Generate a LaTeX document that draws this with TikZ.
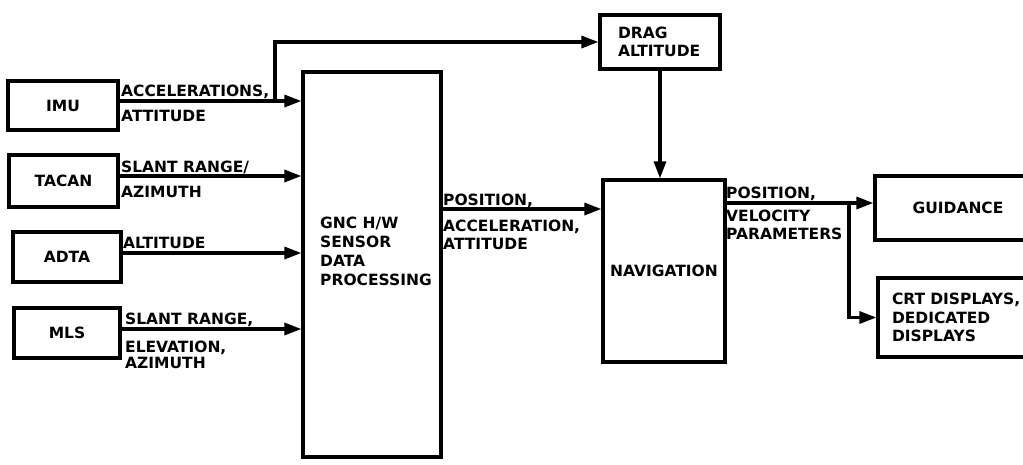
\documentclass[tikz,border=0pt]{standalone}
\usepackage{fontspec}
\setmainfont{DejaVu Sans}
\usetikzlibrary{arrows.meta}
\newcommand\lblfont{\fontsize{15.5}{18.5}\selectfont\bfseries}
\tikzset{
  box/.style={draw, rectangle, line width=3.2pt, inner sep=0pt, font=\lblfont},
  lbl/.style={inner sep=0pt, anchor=base west, font=\lblfont},
  conn/.style={line width=3.2pt},
  arr/.style={conn, -{Triangle[length=17pt,width=12pt]}}
}
\begin{document}
\begin{tikzpicture}[x=1pt,y=-1pt]
\useasboundingbox (0,0) rectangle (1023,464);
\clip (0,0) rectangle (1023,464);
% boxes
\node[box, minimum width=110pt, minimum height=49pt] (imu) at (63,105.5) {IMU};
\node[box, minimum width=109pt, minimum height=52pt] (tacan) at (63.5,181) {TACAN};
\node[box, minimum width=108pt, minimum height=50pt] (adta) at (67,257) {ADTA};
\node[box, minimum width=106pt, minimum height=50pt] (mls) at (67,333) {MLS};
\node[box, minimum width=138pt, minimum height=385pt] (gnc) at (372,264.5) {};
\node[box, minimum width=120pt, minimum height=54pt, text width=84pt, align=left] (drag) at (660,42) {DRAG\\ALTITUDE};
\node[box, minimum width=122pt, minimum height=182pt] (nav) at (664,271) {NAVIGATION};
\node[box, minimum width=166pt, minimum height=64pt] (guid) at (958,208) {GUIDANCE};
\node[box, minimum width=164pt, minimum height=79pt, text width=136pt, align=left] (crt) at (960,317.5) {CRT DISPLAYS,\\DEDICATED\\DISPLAYS};
% GNC text
\node[lbl] (g1) at (320,228.5) {GNC H/W};
\node[lbl] (g2) at (320,247) {SENSOR};
\node[lbl] (g3) at (320,266) {DATA};
\node[lbl] (g4) at (320,285) {PROCESSING};
% connectors
\draw[arr] ([yshift=4.5pt]imu.east) coordinate (a1) -- (a1 -| gnc.west);
\coordinate (br) at (275,101);
\draw[arr] (br) |- (drag.west);
\draw[arr] ([yshift=5pt]tacan.east) coordinate (a2) -- (a2 -| gnc.west);
\draw[arr] ([yshift=4pt]adta.east) coordinate (a3) -- (a3 -| gnc.west);
\draw[arr] ([yshift=4pt]mls.east) coordinate (a4) -- (a4 -| gnc.west);
\draw[arr] (drag.south) -- (drag.south |- nav.north);
\draw[arr] (gnc.east |- 0,209) -- (nav.west |- 0,209);
\draw[arr] (nav.east |- 0,203) -- (guid.west |- 0,203);
\coordinate (br2) at (849,203);
\draw[arr] (br2) |- (crt.west);
% connector labels
\node[lbl] (t1) at (121,96) {ACCELERATIONS,};
\node[lbl] (t2) at (121,121) {ATTITUDE};
\node[lbl] (t3) at (121,172) {SLANT RANGE/};
\node[lbl] (t4) at (121,197) {AZIMUTH};
\node[lbl] (t5) at (123,248) {ALTITUDE};
\node[lbl] (t6) at (125,324) {SLANT RANGE,};
\node[lbl] (t7) at (125,352) {ELEVATION,};
\node[lbl] (t8) at (125,368.5) {AZIMUTH};
\node[lbl] (t9) at (443,205) {POSITION,};
\node[lbl] (t10) at (443,231) {ACCELERATION,};
\node[lbl] (t11) at (443,249) {ATTITUDE};
\node[lbl] (t12) at (726,198) {POSITION,};
\node[lbl] (t13) at (726,221) {VELOCITY};
\node[lbl] (t14) at (726,239.5) {PARAMETERS};
\end{tikzpicture}
\end{document}
